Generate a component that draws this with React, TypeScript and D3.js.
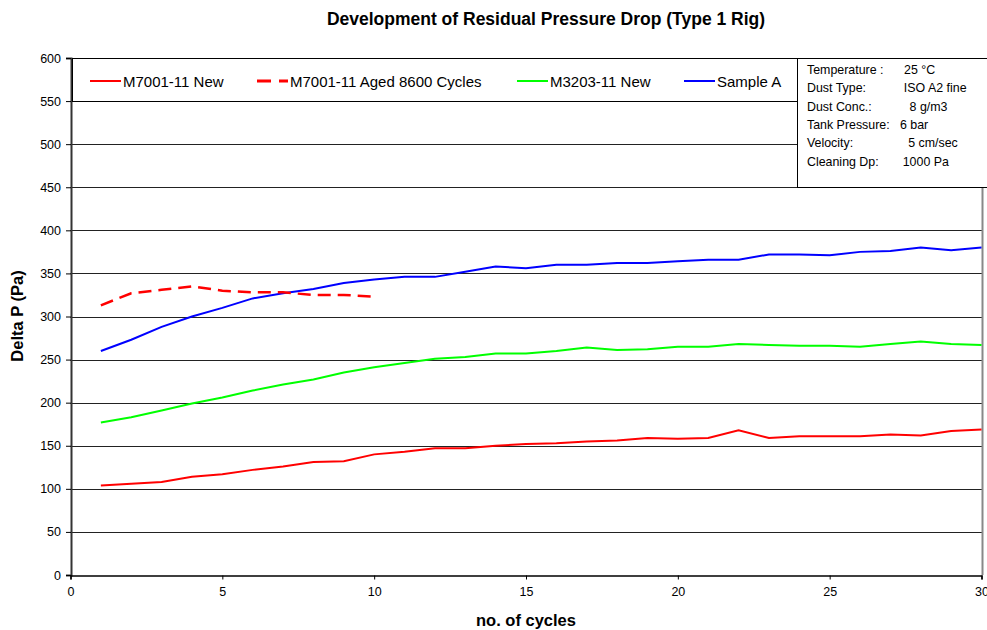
import React, { useRef, useEffect } from 'react';
import * as d3 from 'd3';

const cycles = d3.range(1, 31);

const m7001New = [104, 106, 108, 114, 117, 122, 126, 131, 132, 140, 143, 147, 147, 150, 152, 153, 155, 156, 159, 158, 159, 168, 159, 161, 161, 161, 163, 162, 167, 169];
const m7001Aged = [313, 327, 331, 335, 330, 328, 328, 325, 325, 323];
const m3203New = [177, 183, 191, 199, 206, 214, 221, 227, 235, 241, 246, 251, 253, 257, 257, 260, 264, 261, 262, 265, 265, 268, 267, 266, 266, 265, 268, 271, 268, 267];
const sampleA = [260, 273, 288, 300, 310, 321, 327, 332, 339, 343, 346, 346, 352, 358, 356, 360, 360, 362, 362, 364, 366, 366, 372, 372, 371, 375, 376, 380, 377, 380];

const seriesNames = ['M7001-11 New', 'M7001-11 Aged 8600 Cycles', 'M3203-11 New', 'Sample A'];

const yTicks = d3.range(0, 601, 50);
const xTicks = [0, 5, 10, 15, 20, 25, 30];

const infoLines = [
  'Temperature :      25 °C',
  'Dust Type:           ISO A2 fine',
  'Dust Conc.:           8 g/m3',
  'Tank Pressure:   6 bar',
  'Velocity:                5 cm/sec',
  'Cleaning Dp:       1000 Pa',
];

const font = '"Liberation Sans", Arial, sans-serif';

function App() {
  const ref = useRef<SVGSVGElement>(null);

  const outerWidth = 987, outerHeight = 630;
  const left = 70.5, right = 981.5, top = 58, bottom = 575;

  useEffect(() => {
    const svg = d3.select(ref.current);
    svg.selectAll('*').remove();

    const x = d3.scaleLinear().domain([0, 30]).range([left, right]);
    const y = d3.scaleLinear().domain([0, 600]).range([bottom, top]);

    svg.append('rect').attr('width', outerWidth).attr('height', outerHeight).attr('fill', '#fff');

    // horizontal grid
    svg.append('g').selectAll('line').data(yTicks.filter(d => d > 0)).enter().append('line')
      .attr('x1', left).attr('x2', right + 1)
      .attr('y1', d => Math.round(y(d)) + 0.5).attr('y2', d => Math.round(y(d)) + 0.5)
      .attr('stroke', '#222').attr('stroke-width', 1);

    // right border
    svg.append('line').attr('x1', right + 1).attr('x2', right + 1).attr('y1', top).attr('y2', bottom)
      .attr('stroke', '#888').attr('stroke-width', 2);

    const yAxis = d3.axisLeft(y).tickValues(yTicks).tickSize(5).tickPadding(5);
    const gy = svg.append('g').attr('transform', `translate(${left + 0.5},0)`).call(yAxis);
    gy.select('.domain').attr('stroke', '#333').attr('stroke-width', 2);
    gy.selectAll('text').style('font-family', font).style('font-size', '12.5px').attr('fill', '#000');

    const xAxis = d3.axisBottom(x).tickValues(xTicks).tickSize(4).tickPadding(8);
    const gx = svg.append('g').attr('transform', `translate(0,${bottom + 0.5})`).call(xAxis);
    gx.select('.domain').attr('stroke', '#000').attr('stroke-width', 1.5);
    gx.selectAll('text').style('font-family', font).style('font-size', '12.5px').attr('fill', '#000');

    const line = d3.line<number>()
      .x((d, i) => x(cycles[i]))
      .y(d => y(d));

    const plot = svg.append('g');
    plot.append('path').datum(m3203New).attr('d', line).attr('fill', 'none')
      .attr('stroke', '#00ff00').attr('stroke-width', 2);
    plot.append('path').datum(sampleA).attr('d', line).attr('fill', 'none')
      .attr('stroke', '#0000ff').attr('stroke-width', 2);
    plot.append('path').datum(m7001New).attr('d', line).attr('fill', 'none')
      .attr('stroke', '#ff0000').attr('stroke-width', 2);
    plot.append('path').datum(m7001Aged).attr('d', line).attr('fill', 'none')
      .attr('stroke', '#ff0000').attr('stroke-width', 2.5).attr('stroke-dasharray', '13,7');

    // legend
    const legend = svg.append('g');
    legend.append('rect').attr('x', 72.5).attr('y', top + 0.5).attr('width', 725).attr('height', 43)
      .attr('fill', '#fff').attr('stroke', '#000');
    const legendX = [90, 257, 517, 684];
    const legendStyle = [
      { stroke: '#ff0000', dash: null, w: 2 },
      { stroke: '#ff0000', dash: '14,8', w: 3 },
      { stroke: '#00ff00', dash: null, w: 2 },
      { stroke: '#0000ff', dash: null, w: 2 },
    ];
    seriesNames.forEach((name, i) => {
      const g = legend.append('g').attr('transform', `translate(${legendX[i]},81)`);
      g.append('line').attr('x1', 0).attr('x2', 31).attr('y1', 0).attr('y2', 0)
        .attr('stroke', legendStyle[i].stroke).attr('stroke-width', legendStyle[i].w)
        .attr('stroke-dasharray', legendStyle[i].dash);
      g.append('text').attr('x', 33).attr('y', 5.5).text(name)
        .style('font-family', font).style('font-size', '15px').attr('fill', '#000');
    });

    // info box
    const info = svg.append('g');
    info.append('rect').attr('x', 797.5).attr('y', top + 0.5).attr('width', 200).attr('height', 129)
      .attr('fill', '#fff').attr('stroke', '#000');
    info.selectAll('text').data(infoLines).enter().append('text')
      .attr('x', 807).attr('y', (d, i) => 74 + i * 18.3)
      .style('white-space', 'pre').attr('xml:space', 'preserve')
      .style('font-family', font).style('font-size', '12.4px').attr('fill', '#000')
      .text(d => d);

    // titles
    svg.append('text').attr('x', 546).attr('y', 25).attr('text-anchor', 'middle')
      .style('font-family', font).style('font-size', '17.5px').style('font-weight', 'bold')
      .text('Development of Residual Pressure Drop (Type 1 Rig)');
    svg.append('text').attr('x', 526).attr('y', 626).attr('text-anchor', 'middle')
      .style('font-family', font).style('font-size', '16.5px').style('font-weight', 'bold')
      .text('no. of cycles');
    svg.append('text').attr('transform', `translate(23,316) rotate(-90)`).attr('text-anchor', 'middle')
      .style('font-family', font).style('font-size', '16.5px').style('font-weight', 'bold')
      .text('Delta P (Pa)');
  }, []);

  return (
    <svg ref={ref} width={outerWidth} height={outerHeight}
      style={{ position: 'absolute', left: 0, top: 0, display: 'block' }}>
    </svg>
  );
}

export default App;
